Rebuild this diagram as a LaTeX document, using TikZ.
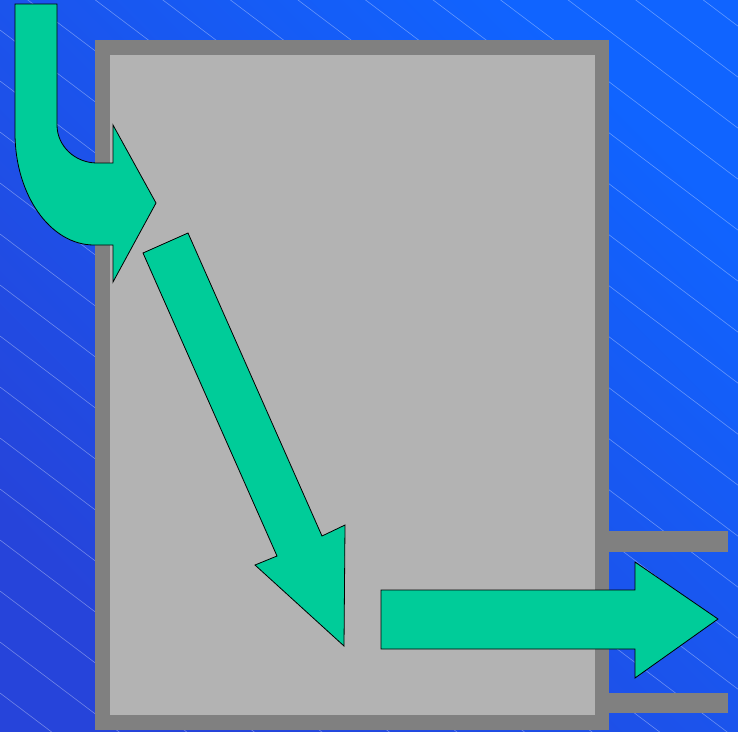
\documentclass[tikz,border=0pt]{standalone}
\usetikzlibrary{calc}
\definecolor{bgtr}{RGB}{16,100,255}
\definecolor{bgbl}{RGB}{38,68,218}
\definecolor{boxdark}{RGB}{128,128,128}
\definecolor{boxlight}{RGB}{179,179,179}
\definecolor{flow}{RGB}{0,204,153}
\tikzset{
  flowarrow/.style={fill=flow, draw=black, line width=0.8pt, line join=miter},
  hatch/.style={draw=white, opacity=0.35, line width=0.6pt}
}
\begin{document}
\begin{tikzpicture}[x=1pt,y=-1pt]
\useasboundingbox (0,0) rectangle (738,731);
% background
\shade[top color=bgtr, bottom color=bgbl, shading angle=-45] (0,0) rectangle (738,731);
\begin{scope}
\clip (0,0) rectangle (738,731);
\foreach \k in {-3,...,28} {
  \draw[hatch] (0,{-429+51*\k}) -- (738,{-429+51*\k+0.755*738});
}
\end{scope}
% tank
\fill[boxdark] (95,40) rectangle (609,730);
\fill[boxlight] (110,55) rectangle (595,715);
% outlet pipes
\fill[boxdark] (609,531) rectangle (728,552);
\fill[boxdark] (609,693) rectangle (728,713);
% curved inlet arrow
\draw[flowarrow] (15,4) -- (57,4) -- (57,125)
  .. controls (57,146) and (75,163) .. (97,163)
  -- (113,163) -- (113,125) -- (156,203) -- (113,282) -- (113,245) -- (94,245)
  .. controls (50.4,245) and (15,195) .. (15,133) -- cycle;
% diagonal arrow
\draw[flowarrow] (143,253) -- (188,233) -- (322,536) -- (345,525) -- (344,646)
  -- (255,565) -- (277,556) -- cycle;
% outlet arrow
\draw[flowarrow] (381,590) -- (635,590) -- (635,562) -- (718,619) -- (635,678)
  -- (635,649) -- (381,649) -- cycle;
\end{tikzpicture}
\end{document}
